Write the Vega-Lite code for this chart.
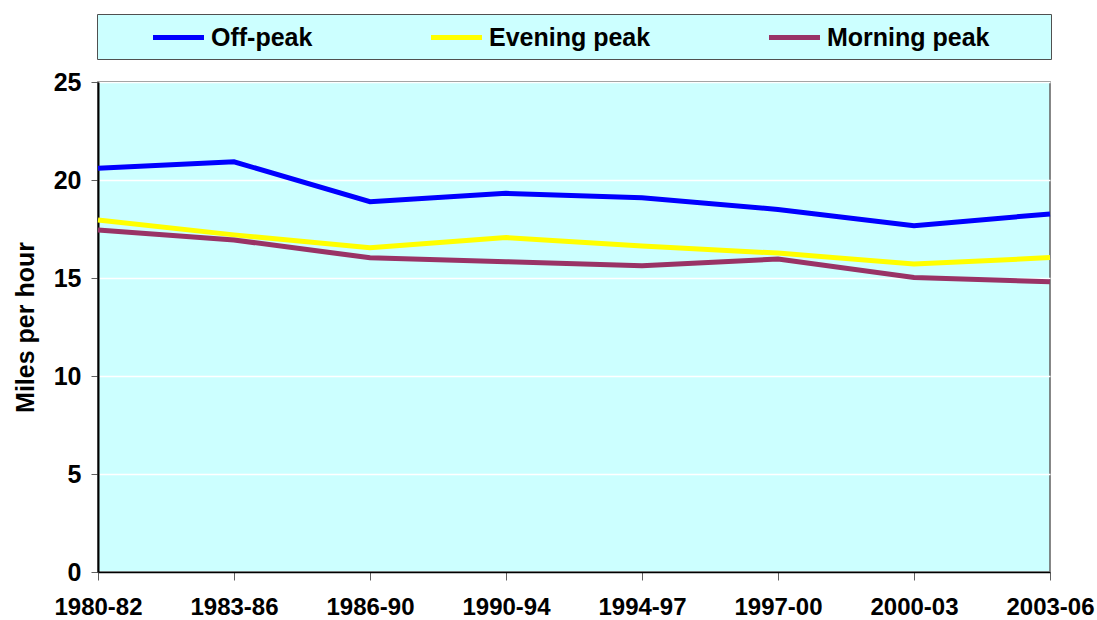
{
  "$schema": "https://vega.github.io/schema/vega-lite/v6.json",
  "width": 952,
  "height": 490,
  "autosize": "none",
  "padding": {"left": 98, "top": 82, "right": 47, "bottom": 48},
  "background": "white",
  "config": {
    "view": {"fill": "#CCFFFF", "stroke": "#606060", "strokeWidth": 1.5},
    "font": "Liberation Sans"
  },
  "data": {
    "values": [
      {"period": "1980-82", "series": "Off-peak", "mph": 20.6},
      {"period": "1983-86", "series": "Off-peak", "mph": 20.93},
      {"period": "1986-90", "series": "Off-peak", "mph": 18.89},
      {"period": "1990-94", "series": "Off-peak", "mph": 19.32},
      {"period": "1994-97", "series": "Off-peak", "mph": 19.1},
      {"period": "1997-00", "series": "Off-peak", "mph": 18.5},
      {"period": "2000-03", "series": "Off-peak", "mph": 17.67},
      {"period": "2003-06", "series": "Off-peak", "mph": 18.27},
      {"period": "1980-82", "series": "Evening peak", "mph": 17.96},
      {"period": "1983-86", "series": "Evening peak", "mph": 17.2},
      {"period": "1986-90", "series": "Evening peak", "mph": 16.55},
      {"period": "1990-94", "series": "Evening peak", "mph": 17.06},
      {"period": "1994-97", "series": "Evening peak", "mph": 16.63},
      {"period": "1997-00", "series": "Evening peak", "mph": 16.27},
      {"period": "2000-03", "series": "Evening peak", "mph": 15.71},
      {"period": "2003-06", "series": "Evening peak", "mph": 16.04},
      {"period": "1980-82", "series": "Morning peak", "mph": 17.45},
      {"period": "1983-86", "series": "Morning peak", "mph": 16.94},
      {"period": "1986-90", "series": "Morning peak", "mph": 16.03},
      {"period": "1990-94", "series": "Morning peak", "mph": 15.83},
      {"period": "1994-97", "series": "Morning peak", "mph": 15.63},
      {"period": "1997-00", "series": "Morning peak", "mph": 15.97},
      {"period": "2000-03", "series": "Morning peak", "mph": 15.03},
      {"period": "2003-06", "series": "Morning peak", "mph": 14.81}
    ]
  },
  "mark": {"type": "line", "strokeWidth": 5, "strokeJoin": "miter"},
  "encoding": {
    "x": {
      "field": "period",
      "type": "ordinal",
      "sort": null,
      "scale": {"type": "point", "padding": 0},
      "axis": {
        "title": null,
        "labelAngle": 0,
        "labelFont": "Liberation Sans",
        "labelFontSize": 24,
        "labelFontWeight": "bold",
        "labelColor": "black",
        "labelPadding": 15,
        "labelOverlap": false,
        "tickColor": "#606060",
        "tickSize": 8,
        "tickWidth": 1,
        "domainColor": "black",
        "domainWidth": 1.5,
        "grid": false
      }
    },
    "y": {
      "field": "mph",
      "type": "quantitative",
      "scale": {"domain": [0, 25], "nice": false, "zero": true},
      "axis": {
        "title": "Miles per hour",
        "titleFont": "Liberation Sans",
        "titleFontSize": 25,
        "titleFontWeight": "bold",
        "titleColor": "black",
        "titlePadding": 15,
        "values": [0, 5, 10, 15, 20, 25],
        "labelFont": "Liberation Sans",
        "labelFontSize": 25,
        "labelFontWeight": "bold",
        "labelColor": "black",
        "labelPadding": 10,
        "tickColor": "#606060",
        "tickSize": 7,
        "tickWidth": 1,
        "domainColor": "black",
        "domainWidth": 2,
        "grid": true,
        "gridColor": "white",
        "gridWidth": 1.5
      }
    },
    "color": {
      "field": "series",
      "type": "nominal",
      "sort": ["Off-peak", "Evening peak", "Morning peak"],
      "scale": {
        "domain": ["Off-peak", "Evening peak", "Morning peak"],
        "range": ["#0000FF", "#FFFF00", "#993366"]
      },
      "legend": {
        "title": " ",
        "titleOrient": "left",
        "titleFontSize": 1,
        "titlePadding": 58,
        "orient": "none",
        "legendX": -1,
        "legendY": -68,
        "direction": "horizontal",
        "columns": 3,
        "gridAlign": "none",
        "columnPadding": 108,
        "padding": 8,
        "fillColor": "#CCFFFF",
        "strokeColor": "#505050",
        "symbolType": "M-2,0H2",
        "symbolSize": 650,
        "symbolStrokeWidth": 5,
        "symbolStrokeCap": "round",
        "labelOffset": 17,
        "labelFont": "Liberation Sans",
        "labelFontSize": 25,
        "labelFontWeight": "bold",
        "labelColor": "black",
        "labelLimit": 400,
        "labelExpr": "datum.label == 'Morning peak' ? datum.label + '\u00a0\u00a0\u00a0\u00a0\u00a0\u2800' : datum.label"
      }
    }
  }
}
